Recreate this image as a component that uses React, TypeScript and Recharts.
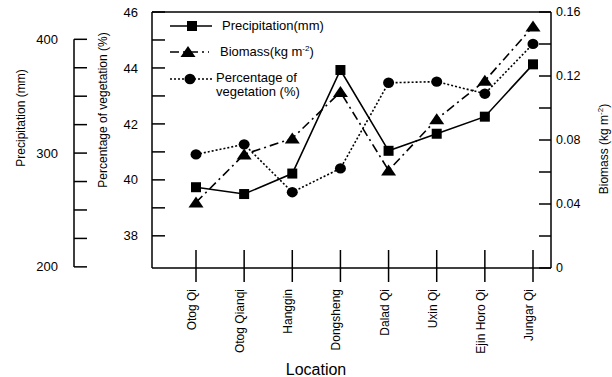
import React from 'react';
import { LineChart, Line, XAxis, YAxis, ReferenceLine, Legend } from 'recharts';

// the page keeps the browser's 8px body margin; the chart must sit at 0,0
document.body.style.margin = '0';

const FONT = '"Liberation Sans", Arial, sans-serif';
const INK = '#000';

const locations = ['Otog Qi', 'Otog Qianqi', 'Hanggin', 'Dongsheng', 'Dalad Qi', 'Uxin Qi', 'Ejin Horo Qi', 'Jungar Qi'];
const precipitation = [270, 264, 282, 373, 302, 317, 332, 378]; // mm
const biomass = [0.041, 0.071, 0.081, 0.11, 0.061, 0.093, 0.117, 0.151]; // kg m-2
const vegetation = [40.91, 41.27, 39.56, 40.41, 43.47, 43.51, 43.08, 44.86]; // %

const precipTicks = [200, 225, 250, 275, 300, 325, 350, 375, 400];
const vegTicks = [38, 39, 40, 41, 42, 43, 44, 45, 46];
const biomassTicks = [0, 0.02, 0.04, 0.06, 0.08, 0.1, 0.12, 0.14, 0.16];

const data = locations.map((location, i) => ({
  location,
  precipitation: precipitation[i],
  biomass: biomass[i],
  vegetation: vegetation[i],
}));

const LEFT_TICK_TEXT = { fill: INK, fontSize: 13, fontFamily: FONT };
const RIGHT_TICK_TEXT = { fill: INK, fontSize: 12.5, fontFamily: FONT };
const AXIS_LINE = { stroke: INK, strokeWidth: 1.5 };

function SquareDot({ cx, cy, index }: any) {
  return <rect key={`sq-${index}`} x={cx - 5} y={cy - 5} width={10} height={10} fill={INK} />;
}

function TriangleDot({ cx, cy, index }: any) {
  return (
    <polygon
      key={`tri-${index}`}
      points={`${cx},${cy - 6} ${cx + 7.5},${cy + 5} ${cx - 7.5},${cy + 5}`}
      fill={INK}
    />
  );
}

function CircleDot({ cx, cy, index }: any) {
  return <ellipse key={`ci-${index}`} cx={cx} cy={cy} rx={5.5} ry={5.2} fill={INK} />;
}

// x ticks cross the axis line; labels read bottom-to-top, ending just below the tick
function LocationTick({ x, y, payload }: any) {
  const axisY = y - 21;
  return (
    <g>
      <line x1={x} x2={x} y1={axisY - 18} y2={axisY + 14} stroke={INK} strokeWidth={1.5} />
      <text
        x={x}
        y={y}
        transform={`rotate(-90 ${x} ${y})`}
        textAnchor="end"
        fontSize={12}
        fontFamily={FONT}
        fill={INK}
      >
        {payload.value}
      </text>
    </g>
  );
}

function PrecipTitle({ viewBox }: any) {
  const x = viewBox.x + 25;
  const y = viewBox.y + 106;
  return (
    <text x={x} y={y} transform={`rotate(-90 ${x} ${y})`} textAnchor="middle" fontSize={12} fontFamily={FONT} fill={INK}>
      Precipitation (mm)
    </text>
  );
}

function VegTitle({ viewBox }: any) {
  const x = viewBox.x + 33;
  const y = viewBox.y + 98;
  return (
    <text x={x} y={y} transform={`rotate(-90 ${x} ${y})`} textAnchor="middle" fontSize={12} fontFamily={FONT} fill={INK}>
      Percentage of vegetation (%)
    </text>
  );
}

function BiomassTitle({ viewBox }: any) {
  const x = viewBox.x + 57;
  const y = viewBox.y + 137;
  return (
    <text x={x} y={y} transform={`rotate(-90 ${x} ${y})`} textAnchor="middle" fontSize={12} fontFamily={FONT} fill={INK}>
      Biomass (kg m<tspan dy={-5} fontSize={8}>-2</tspan>
      <tspan dy={5}>)</tspan>
    </text>
  );
}

function LocationTitle({ viewBox }: any) {
  return (
    <text x={viewBox.x + 164} y={viewBox.y + 107} textAnchor="middle" fontSize={16} fontFamily={FONT} fill={INK}>
      Location
    </text>
  );
}

function renderLegend() {
  return (
    <svg width={200} height={95} style={{ display: 'block', fontFamily: FONT }}>
      <line x1={5} x2={47} y1={14} y2={14} stroke={INK} strokeWidth={1.6} />
      <rect x={22} y={9} width={10} height={10} fill={INK} />
      <text x={57} y={18} fontSize={13} fill={INK}>Precipitation(mm)</text>

      <line x1={5} x2={44} y1={40} y2={40} stroke={INK} strokeWidth={1.6} strokeDasharray="9 4 2 4" />
      <polygon points="23,34 30.5,45 15.5,45" fill={INK} />
      <text x={55} y={44} fontSize={13} fill={INK}>
        Biomass(kg m<tspan dy={-5} fontSize={8}>-2</tspan>
        <tspan dy={5}>)</tspan>
      </text>

      <line x1={5} x2={49} y1={67} y2={67} stroke={INK} strokeWidth={1.6} strokeDasharray="2 2" />
      <ellipse cx={25} cy={67} rx={5.5} ry={5.2} fill={INK} />
      <text x={51} y={70} fontSize={13} fill={INK}>Percentage of</text>
      <text x={51} y={84} fontSize={13} fill={INK}>vegetation (%)</text>
    </svg>
  );
}

export default function App() {
  return (
    <LineChart
      width={612}
      height={377}
      data={data}
      margin={{ top: 12, right: 21, bottom: 0, left: 0 }}
      style={{ fontFamily: FONT }}
    >
      <XAxis
        dataKey="location"
        scale="point"
        padding={{ left: 44, right: 18 }}
        height={109}
        axisLine={AXIS_LINE}
        tickLine={false}
        tickSize={14}
        tickMargin={7}
        interval={0}
        tick={<LocationTick />}
        label={<LocationTitle />}
      />
      <YAxis
        yAxisId="outer"
        orientation="left"
        width={74}
        type="number"
        domain={[199, 424]}
        allowDataOverflow
        ticks={precipTicks}
        interval={0}
        tickFormatter={(v: number, i: number) => (i % 4 === 0 ? String(v) : '')}
        tickSize={-13}
        tickMargin={29}
        tick={LEFT_TICK_TEXT}
        axisLine={{ ...AXIS_LINE, strokeDasharray: '0 27.3 227.6 60' }}
        tickLine={AXIS_LINE}
        label={<PrecipTitle />}
      />
      <YAxis
        yAxisId="inner"
        orientation="left"
        width={78}
        type="number"
        domain={[36.85, 46]}
        allowDataOverflow
        ticks={vegTicks}
        interval={0}
        tickFormatter={(v: number, i: number) => (i % 2 === 0 ? String(v) : '')}
        tickSize={-13}
        tickMargin={27}
        tick={LEFT_TICK_TEXT}
        axisLine={AXIS_LINE}
        tickLine={AXIS_LINE}
        label={<VegTitle />}
      />
      <YAxis
        yAxisId="biomass"
        orientation="right"
        width={40}
        type="number"
        domain={[0, 0.16]}
        allowDataOverflow
        ticks={biomassTicks}
        interval={0}
        tickFormatter={(v: number, i: number) => (i % 2 === 0 ? (v === 0 ? '0' : v.toFixed(2)) : '')}
        tickSize={-12}
        tickMargin={17}
        tick={RIGHT_TICK_TEXT}
        axisLine={AXIS_LINE}
        tickLine={AXIS_LINE}
        label={<BiomassTitle />}
      />
      <ReferenceLine yAxisId="inner" y={46} stroke={INK} strokeWidth={1.5} />
      <Legend
        content={renderLegend}
        layout="vertical"
        align="center"
        verticalAlign="middle"
        wrapperStyle={{ left: 165, top: 12, width: 200, height: 95 }}
      />
      <Line
        yAxisId="outer"
        dataKey="precipitation"
        name="Precipitation(mm)"
        stroke={INK}
        strokeWidth={1.6}
        dot={SquareDot}
        activeDot={false}
        isAnimationActive={false}
      />
      <Line
        yAxisId="biomass"
        dataKey="biomass"
        name="Biomass(kg m-2)"
        stroke={INK}
        strokeWidth={1.6}
        strokeDasharray="9 4 2 4"
        dot={TriangleDot}
        activeDot={false}
        isAnimationActive={false}
      />
      <Line
        yAxisId="inner"
        dataKey="vegetation"
        name="Percentage of vegetation (%)"
        stroke={INK}
        strokeWidth={1.6}
        strokeDasharray="2 2"
        dot={CircleDot}
        activeDot={false}
        isAnimationActive={false}
      />
    </LineChart>
  );
}
